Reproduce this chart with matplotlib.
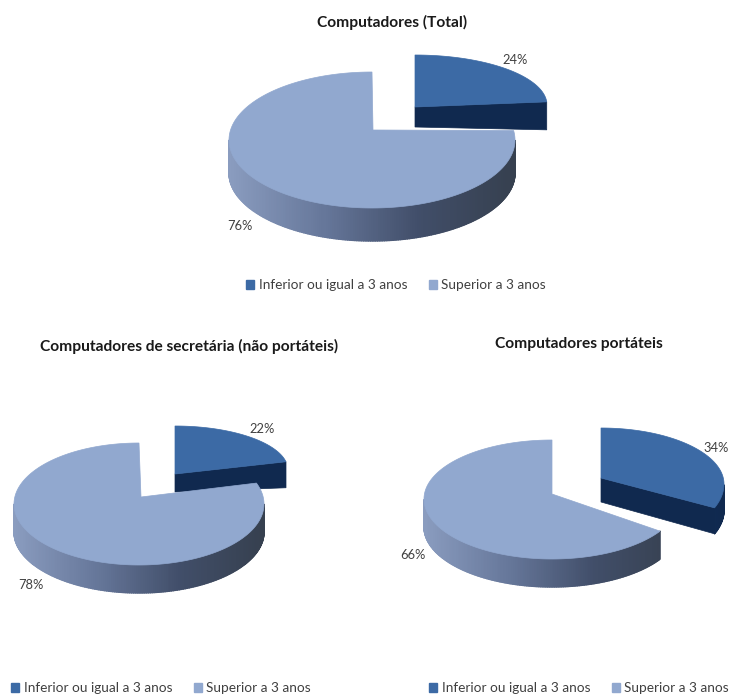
import numpy as np
import matplotlib
matplotlib.use('Agg')
import matplotlib.pyplot as plt
from matplotlib.collections import PolyCollection
from matplotlib.colors import LinearSegmentedColormap
from matplotlib.patches import Patch, Polygon

plt.rcParams['font.family'] = ['Lato', 'DejaVu Sans']

# data
titles = ['Computadores (Total)', 'Computadores de secretária (não portáteis)', 'Computadores portáteis']
categories = ['Inferior ou igual a 3 anos', 'Superior a 3 anos']
inferior = [24, 22, 34]
superior = [76, 78, 66]

# colours
BLUE = '#3c6aa5'
LIGHT = '#91a8cf'
NAVY = '#10294f'
wall_light = LinearSegmentedColormap.from_list('wl', ['#8a9cbf', '#66779a', '#414e69', '#36404f'])
wall_blue = LinearSegmentedColormap.from_list('wb', ['#1c3a66', '#10294f'])

# layout in pixels of the picture, one entry per pie
# main/cut: cx, cy, rx, ry back, ry front, apex x, apex y, depth, angle warp
main_geo = [
    (372, 140, 143, 68, 68, 373, 130, 33, 1.016),
    (139, 504, 125, 61, 61, 141, 497, 28, 1.033),
    (552, 499, 128, 59, 60, 552, 494, 28, 1.0),
]
# cut slice also has depth at the apex
cut_geo = [
    (415, 105, 132, 50, 50, 415, 107, 28, 1.0, 20),
    (175, 470, 113, 44, 44, 175, 474, 26, 1.0, 18),
    (601, 484, 123, 56, 62, 601, 478, 26, 0.92, 24),
]
title_pos = [(392, 22), (189, 346), (579, 344)]
legend_pos = [(396, 285), (161, 688), (579, 688)]
inf_label_pos = [(515, 60), (262, 429), (716, 448)]
sup_label_pos = [(240, 226), (31, 585), (413, 555)]


def rim(t, cx, cy, rx, ryb, ryf):
    # t in degrees clockwise from the top of the pie
    t = np.radians(t)
    ry = np.where(np.cos(t) > 0, ryb, ryf)
    return cx + rx * np.sin(t), cy - ry * np.cos(t)


def draw_wall(ax, t, geo, depth, cmap):
    # side of the pie, split in thin strips for the shading
    x, y = rim(t, *geo)
    shade = (x - geo[0] + geo[2]) / (2 * geo[2])
    verts = [[(x[i], y[i]), (x[i + 1], y[i + 1]), (x[i + 1], y[i + 1] + depth), (x[i], y[i] + depth)]
             for i in range(len(t) - 1)]
    cols = cmap(shade[:-1])
    ax.add_collection(PolyCollection(verts, facecolors=cols, edgecolors=cols, linewidths=1.0))


def draw_pie(ax, share, main, cut):
    split = 360 * share / 100

    # slice pulled out of the pie, drawn first
    cx, cy, rx, ryb, ryf, ax0, ay0, depth, warp, apex_depth = cut
    t = np.linspace(0, split * warp, 120)
    x, y = rim(t, cx, cy, rx, ryb, ryf)
    front = t[t >= 90]
    if len(front) > 1:
        draw_wall(ax, front, (cx, cy, rx, ryb, ryf), depth, wall_blue)
    ax.add_patch(Polygon([(ax0, ay0), (x[-1], y[-1]), (x[-1], y[-1] + depth), (ax0, ay0 + apex_depth)],
                         closed=True, fc=NAVY, ec=NAVY, lw=0.5))
    ax.add_patch(Polygon(np.vstack([[ax0, ay0], np.column_stack([x, y])]), closed=True, fc=BLUE, ec=BLUE, lw=0.5))

    # rest of the pie
    cx, cy, rx, ryb, ryf, ax0, ay0, depth, warp = main
    t = 360 - (360 - np.linspace(split, 360, 300)) * warp
    x, y = rim(t, cx, cy, rx, ryb, ryf)
    front = t[(t >= 90) & (t <= 270)]
    draw_wall(ax, front, (cx, cy, rx, ryb, ryf), depth, wall_light)
    ax.add_patch(Polygon(np.vstack([[ax0, ay0], np.column_stack([x, y])]), closed=True, fc=LIGHT, ec=LIGHT, lw=0.5))


fig = plt.figure(figsize=(7.31, 6.95), dpi=100)
ax = fig.add_axes([0, 0, 1, 1])
ax.set_xlim(0, 731)
ax.set_ylim(695, 0)
ax.axis('off')

for n in range(3):
    draw_pie(ax, inferior[n], main_geo[n], cut_geo[n])
    ax.text(*title_pos[n], titles[n], fontsize=11.2, fontweight='bold', color='#1a1a1a', ha='center', va='center')
    ax.text(*inf_label_pos[n], f'{inferior[n]}%', fontsize=9.3, color='#404040', ha='center', va='center')
    ax.text(*sup_label_pos[n], f'{superior[n]}%', fontsize=9.3, color='#404040', ha='center', va='center')
    handles = [Patch(fc=BLUE, ec=BLUE), Patch(fc=LIGHT, ec=LIGHT)]
    fig.legend(handles, categories, ncol=2, frameon=False, loc='center', fontsize=9.8,
               labelcolor='#404040', handlelength=0.6, handleheight=0.6, handletextpad=0.3, columnspacing=1.6,
               bbox_to_anchor=(legend_pos[n][0] / 731, 1 - legend_pos[n][1] / 695))

fig.savefig('out.png', dpi=100)
